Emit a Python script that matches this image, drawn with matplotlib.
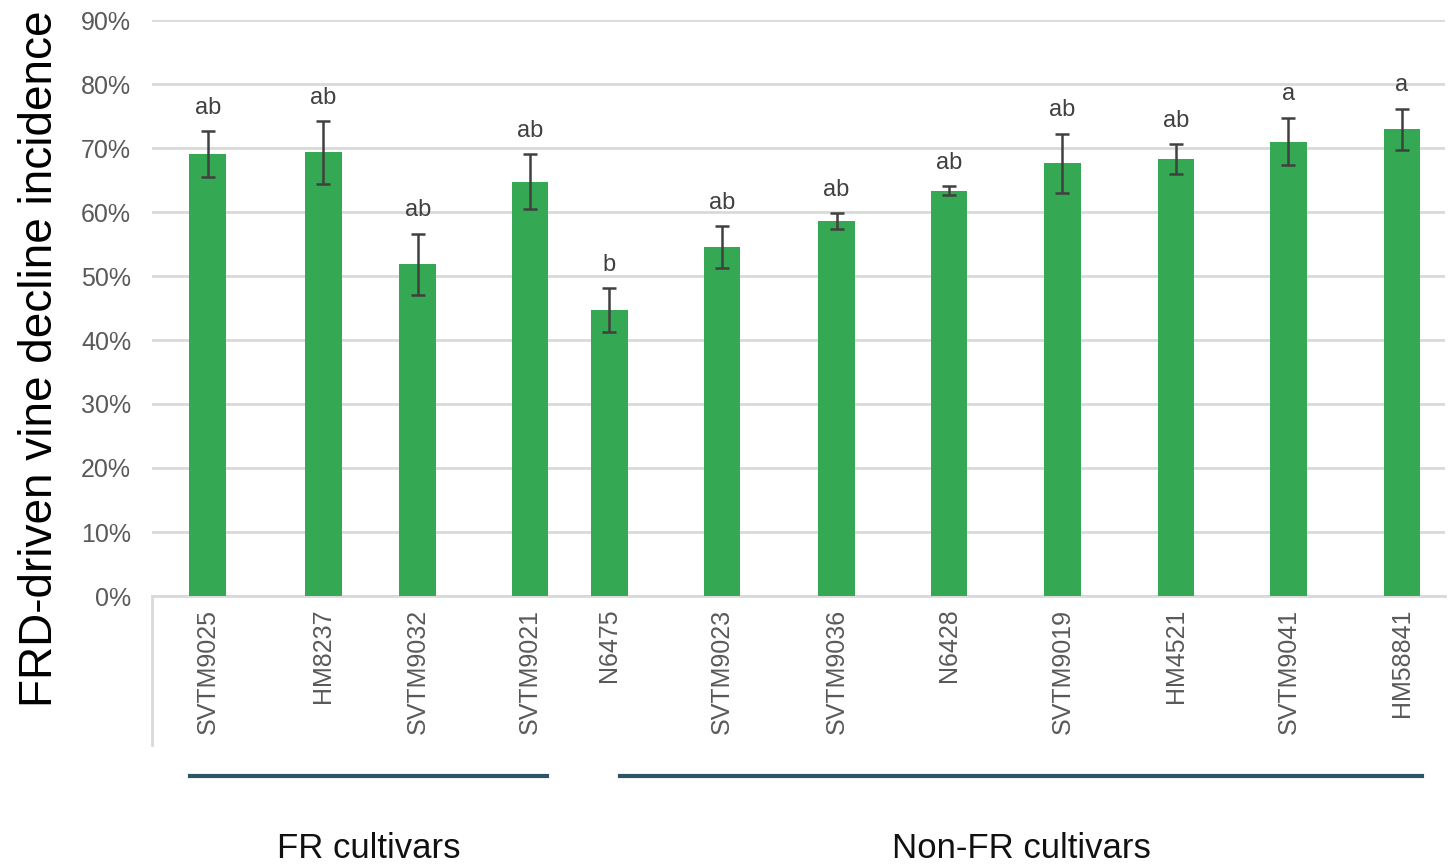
import matplotlib.pyplot as plt
from matplotlib.lines import Line2D
from matplotlib.ticker import PercentFormatter

plt.rcParams['font.family'] = ['Liberation Sans', 'DejaVu Sans']

# ==========================================================
# DATOS
# ==========================================================
cultivares = ["SVTM9025", "HM8237", "SVTM9032", "SVTM9021",
              "N6475", "SVTM9023", "SVTM9036", "N6428",
              "SVTM9019", "HM4521", "SVTM9041", "HM58841"]
incidencia = [69.0, 69.3, 51.8, 64.7,
              44.7, 54.5, 58.6, 63.3,
              67.6, 68.3, 71.0, 72.9]
error_std = [3.6, 4.9, 4.8, 4.3,
             3.4, 3.3, 1.2, 0.7,
             4.6, 2.3, 3.7, 3.2]
letras = ["ab", "ab", "ab", "ab",
          "b", "ab", "ab", "ab",
          "ab", "ab", "a", "a"]
grupos = ["FR cultivars", "Non-FR cultivars"]

# posiciones de las barras en el eje (el bloque FR va más apretado)
x_pos = [0.49, 1.51, 2.34, 3.33, 4.03, 5.02, 6.03, 7.02, 8.02, 9.02, 10.01, 11.01]

VERDE = "#34a853"
GRIS_TXT = "#595959"
GRIS_GRID = "#d9d9d9"

W, H = 1450, 864
fig = plt.figure(figsize=(W / 100, H / 100), dpi=100)
ax = fig.add_axes([152 / W, 1 - 596 / H, (1445 - 152) / W, (596 - 20) / H])

ax.bar(x_pos, incidencia, width=0.32, color=VERDE, zorder=3)
ax.errorbar(x_pos, incidencia, yerr=error_std, fmt='none', ecolor="#404040",
            elinewidth=1.8, capsize=5, capthick=1.8, zorder=4)

# letras de significancia sobre cada barra
for x, v, e, l in zip(x_pos, incidencia, error_std, letras):
    ax.annotate(l, (x, v + e), xytext=(0, 9), textcoords='offset points',
                ha='center', va='bottom', fontsize=17, color="#404040")

ax.set_xlim(0, 11.39)
ax.set_ylim(0, 90)
ax.set_yticks(range(0, 91, 10))
ax.yaxis.set_major_formatter(PercentFormatter(decimals=0))
ax.grid(axis='y', color=GRIS_GRID, linewidth=2, zorder=0)
ax.set_axisbelow(True)

for lado in ['top', 'right', 'left']:
    ax.spines[lado].set_visible(False)
ax.spines['bottom'].set_color(GRIS_GRID)
ax.spines['bottom'].set_linewidth(2)

ax.set_xticks(x_pos)
ax.set_xticklabels(cultivares, rotation=90, fontsize=18, color=GRIS_TXT)
ax.tick_params(axis='x', length=0, pad=9)
ax.tick_params(axis='y', length=0, pad=15, labelsize=18, labelcolor=GRIS_TXT)

# eje de categorías bajo la gráfica (línea vertical izquierda)
fig.add_artist(Line2D([152 / W, 152 / W], [1 - 596 / H, 1 - 745 / H],
                      color=GRIS_GRID, linewidth=2))

# líneas de grupo y sus etiquetas
tramos = [(190, 547), (620, 1422)]
for (x0, x1), nombre in zip(tramos, grupos):
    fig.add_artist(Line2D([x0 / W, x1 / W], [1 - 776 / H, 1 - 776 / H],
                          color="#2c5566", linewidth=3))
    fig.text((x0 + x1) / 2 / W, 1 - 849 / H, nombre, ha='center', va='center',
             fontsize=25, color="#111111")

fig.text(40 / W, 1 - 359 / H, "FRD-driven vine decline incidence", rotation=90,
         ha='center', va='center', fontsize=33, color="#000000")

fig.savefig("out.png", dpi=100, facecolor='white')
